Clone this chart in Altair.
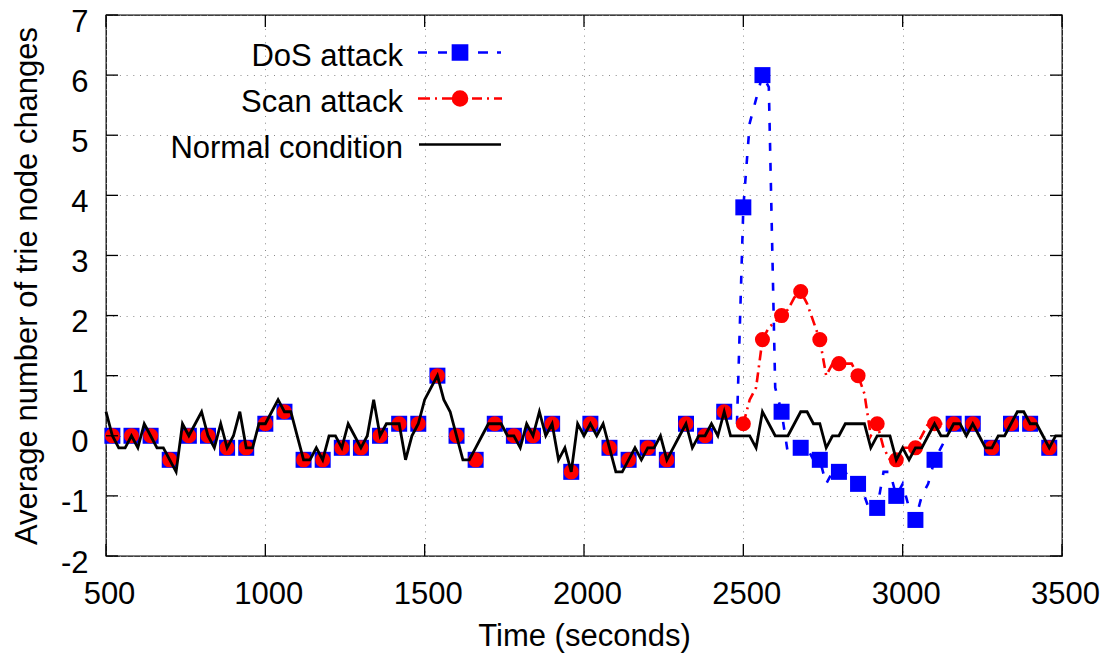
import altair as alt
import pandas as pd

# ---------------- data ----------------
series_names = ["DoS attack", "Scan attack", "Normal condition"]
series_colors = ["#0000ff", "#ff0000", "#000000"]

x_ticks = [500, 1000, 1500, 2000, 2500, 3000, 3500]
y_ticks = [-2, -1, 0, 1, 2, 3, 4, 5, 6, 7]

# normal condition, one sample every 20 s from 500 to 3500
normal_t = list(range(500, 3501, 20))
normal_v = [
    0.4, 0.0, -0.2, -0.2, 0.0, -0.2, 0.2, 0.0, -0.2, -0.2,
    -0.4, -0.6, 0.2, 0.0, 0.2, 0.4, 0.0, -0.2, 0.2, -0.2,
    0.0, 0.4, -0.2, -0.2, 0.2, 0.2, 0.4, 0.6, 0.4, 0.4,
    0.0, -0.4, -0.4, -0.2, -0.4, 0.0, 0.0, -0.2, 0.2, 0.0,
    -0.2, 0.0, 0.6, 0.0, 0.2, 0.2, 0.2, -0.4, 0.0, 0.2,
    0.6, 0.8, 1.0, 0.6, 0.4, 0.0, -0.4, -0.4, -0.2, 0.0,
    0.2, 0.2, 0.2, 0.0, 0.0, -0.2, 0.2, 0.0, 0.4, 0.0,
    0.2, -0.4, -0.2, -0.6, 0.2, 0.0, 0.2, 0.0, 0.2, -0.2,
    -0.6, -0.6, -0.4, -0.2, -0.4, -0.2, -0.2, 0.0, -0.4, -0.2,
    0.0, 0.2, -0.2, 0.0, 0.0, 0.2, 0.0, 0.4, 0.0, 0.0,
    0.0, 0.0, -0.2, 0.4, 0.2, 0.0, 0.0, 0.0, 0.2, 0.4,
    0.4, 0.2, 0.2, -0.2, 0.0, 0.0, 0.2, 0.2, 0.2, 0.2,
    -0.2, 0.0, 0.0, 0.0, -0.4, -0.2, -0.4, -0.2, -0.2, 0.0,
    0.2, 0.0, 0.0, 0.2, 0.2, 0.0, 0.2, 0.0, -0.2, -0.2,
    0.0, 0.0, 0.2, 0.4, 0.4, 0.2, 0.2, 0.0, -0.2, 0.0,
    0.0,
]

# markers (every third sample) of the two attack runs
marker_t = list(range(520, 3461, 60))
dos_marker_v = [
    0.0, 0.0, 0.0, -0.4, 0.0, 0.0, -0.2, -0.2, 0.2, 0.4,
    -0.4, -0.4, -0.2, -0.2, 0.0, 0.2, 0.2, 1.0, 0.0, -0.4,
    0.2, 0.0, 0.0, 0.2, -0.6, 0.2, -0.2, -0.4, -0.2, -0.4,
    0.2, 0.0, 0.4, 3.8, 6.0, 0.4, -0.2, -0.4, -0.6, -0.8,
    -1.2, -1.0, -1.4, -0.4, 0.2, 0.2, -0.2, 0.2, 0.2, -0.2,
]
scan_marker_v = [
    0.0, 0.0, 0.0, -0.4, 0.0, 0.0, -0.2, -0.2, 0.2, 0.4,
    -0.4, -0.4, -0.2, -0.2, 0.0, 0.2, 0.2, 1.0, 0.0, -0.4,
    0.2, 0.0, 0.0, 0.2, -0.6, 0.2, -0.2, -0.4, -0.2, -0.4,
    0.2, 0.0, 0.4, 0.2, 1.6, 2.0, 2.4, 1.6, 1.2, 1.0,
    0.2, -0.4, -0.2, 0.2, 0.2, 0.2, -0.2, 0.2, 0.2, -0.2,
]

# full-resolution attack curves where they leave the normal band
dos_line_t = list(range(2480, 3161, 20))
dos_line_v = [
    0.2, 3.8, 5.2, 5.6, 6.0, 5.8, 0.8, 0.4, -0.3, -0.3,
    -0.2, -0.2, -0.4, -0.4, -0.8, -0.6, -0.6, -0.6, -0.8, -0.8,
    -1.0, -1.3, -1.2, -0.6, -0.6, -1.0, -0.8, -1.2, -1.4, -1.0,
    -0.8, -0.4, -0.2, 0.0, 0.2,
]
scan_line_t = list(range(2500, 3161, 20))
scan_line_v = [
    0.2, 0.6, 0.8, 1.6, 1.8, 1.9, 2.0, 2.1, 2.3, 2.4,
    2.2, 1.9, 1.6, 1.0, 1.2, 1.2, 1.2, 1.2, 1.0, 0.7,
    0.0, 0.2, -0.2, -0.4, -0.4, -0.2, -0.2, -0.2, 0.0, 0.2,
    0.2, 0.2, 0.2, 0.2,
]

# legend symbols: line sample with marker, drawn to the right of the label
legend_paths = [
    "M3.05,-0.4H3.95M5.05,-0.4H5.95M9.05,-0.4H10.05M10.95,-0.4H11.35"
    "M6.545,-1.105H7.955V0.305H6.545Z",
    "M3.05,-0.4H4.25M4.75,-0.4H4.95M5.45,-0.4H6.45M8.45,-0.4H9.45"
    "M9.95,-0.4H10.15M10.65,-0.4H11.45"
    "M7.95,-0.4A0.7,0.7,0,1,1,6.55,-0.4A0.7,0.7,0,1,1,7.95,-0.4Z",
    "M3.15,-0.4H11.35",
]

# ---------------- chart ----------------
W, H = 956, 541
FONT = "Liberation Sans"
FS = 31

df_normal = pd.DataFrame({"t": normal_t, "v": normal_v})
df_dos_m = pd.DataFrame({"t": marker_t, "v": dos_marker_v})
df_scan_m = pd.DataFrame({"t": marker_t, "v": scan_marker_v})
df_dos_l = pd.DataFrame({"t": dos_line_t, "v": dos_line_v})
df_scan_l = pd.DataFrame({"t": scan_line_t, "v": scan_line_v})
df_xt = pd.DataFrame({"t": x_ticks})
df_yt = pd.DataFrame({"v": y_ticks})
df_leg = pd.DataFrame({"series": series_names})

xscale = alt.Scale(domain=[x_ticks[0], x_ticks[-1]], nice=False, zero=False)
yscale = alt.Scale(domain=[y_ticks[0], y_ticks[-1]], nice=False, zero=False)

common_axis = dict(
    grid=True, gridDash=[1, 5.7], gridColor="#8a8a8a", gridWidth=1,
    domain=False, ticks=False, tickSize=0,
    labelFontSize=FS, labelFont=FONT, labelColor="black",
    labelExpr="datum.value + ''", labelFlush=False, labelOverlap=False,
    labelBound=False, labelBaseline="alphabetic",
    titleFontSize=FS, titleFont=FONT, titleFontWeight="normal",
    titleColor="black", titleBaseline="alphabetic", titleAlign="center",
)
x_axis = alt.Axis(
    values=x_ticks, title="Time (seconds)", labelPadding=47, labelOffset=3,
    titleX=W / 2, titleY=89, **common_axis,
)
y_axis = alt.Axis(
    values=y_ticks, title="Average number of trie node changes",
    labelPadding=18, labelAlign="right", labelOffset=16,
    titleAngle=270, titleX=-70, titleY=H / 2, **common_axis,
)

X = alt.X("t:Q", scale=xscale, axis=x_axis)
Y = alt.Y("v:Q", scale=yscale, axis=y_axis)

dos_line = alt.Chart(df_dos_l).mark_line(
    color=series_colors[0], strokeWidth=2.6, strokeDash=[8, 12]
).encode(x=X, y=Y)
dos_pts = alt.Chart(df_dos_m).mark_point(
    shape="square", filled=True, size=256, color=series_colors[0], opacity=1
).encode(x=X, y=Y)
scan_line = alt.Chart(df_scan_l).mark_line(
    color=series_colors[1], strokeWidth=2.6, strokeDash=[10, 5, 2, 5]
).encode(x=X, y=Y)
scan_pts = alt.Chart(df_scan_m).mark_point(
    shape="circle", filled=True, size=227, color=series_colors[1], opacity=1
).encode(x=X, y=Y)
normal_line = alt.Chart(df_normal).mark_line(
    color=series_colors[2], strokeWidth=2.8
).encode(x=X, y=Y)

tick_style = dict(color="black", strokeWidth=1.3)
xt_bottom = alt.Chart(df_xt).mark_rule(**tick_style).encode(
    x=X, y=alt.value(H), y2=alt.value(H - 12))
xt_top = alt.Chart(df_xt).mark_rule(**tick_style).encode(
    x=X, y=alt.value(0), y2=alt.value(12))
yt_left = alt.Chart(df_yt).mark_rule(**tick_style).encode(
    y=Y, x=alt.value(0), x2=alt.value(12))
yt_right = alt.Chart(df_yt).mark_rule(**tick_style).encode(
    y=Y, x=alt.value(W), x2=alt.value(W - 12))

leg = alt.Legend(
    orient="none", legendX=266, legendY=26, title=None,
    labelFontSize=FS, labelFont=FONT, labelColor="black",
    labelAlign="right", labelOffset=0, labelLimit=500,
    symbolSize=400, symbolStrokeWidth=2.6, symbolOpacity=1, symbolOffset=0,
    rowPadding=14, padding=0,
)
legend_layer = alt.Chart(df_leg).transform_filter("false").mark_point(
    filled=True
).encode(
    shape=alt.Shape("series:N", scale=alt.Scale(domain=series_names, range=legend_paths), legend=leg),
    fill=alt.Fill("series:N", scale=alt.Scale(domain=series_names, range=series_colors), legend=leg),
    stroke=alt.Stroke("series:N", scale=alt.Scale(domain=series_names, range=series_colors), legend=leg),
)

chart = alt.layer(
    dos_line, dos_pts, scan_line, scan_pts, normal_line,
    xt_bottom, xt_top, yt_left, yt_right, legend_layer,
).properties(
    width=W, height=H,
    padding={"left": 98, "top": 7, "right": 38, "bottom": 100},
    autosize=alt.AutoSizeParams(type="none"),
).configure_view(stroke="black", strokeWidth=1.3)

chart.save("out.html", embed_options={"renderer": "svg", "actions": False})
